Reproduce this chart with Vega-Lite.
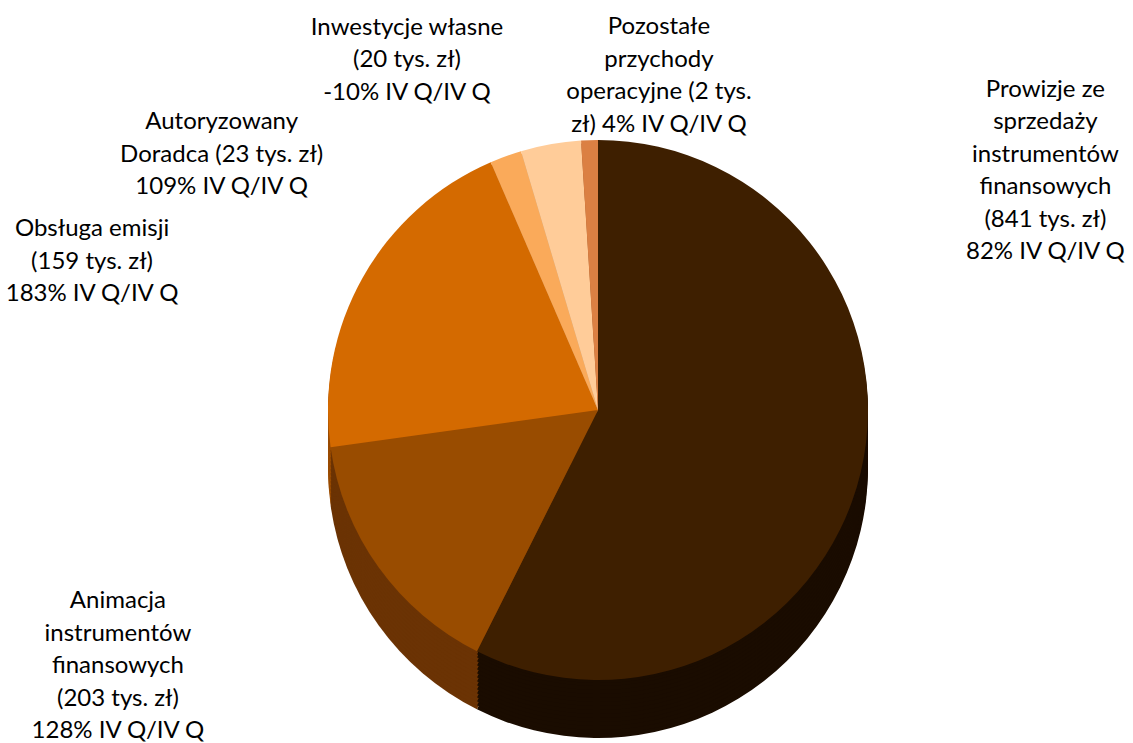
{
  "$schema": "https://vega.github.io/schema/vega-lite/v6.json",
  "width": 1070,
  "height": 666,
  "autosize": {"type": "none"},
  "padding": {"left": 63, "top": 77, "right": 0, "bottom": 0},
  "background": "white",
  "config": {"view": {"stroke": null}},
  "data": {
    "values": [
      {"rank": 1, "name": "Prowizje ze sprzedaży instrumentów finansowych", "share": 57.4, "label": "Prowizje ze\nsprzedaży\ninstrumentów\nfinansowych\n(841 tys. zł)\n82% IV Q/IV Q"},
      {"rank": 2, "name": "Animacja instrumentów finansowych", "share": 15.4, "label": "Animacja\ninstrumentów\nfinansowych\n(203 tys. zł)\n128% IV Q/IV Q"},
      {"rank": 3, "name": "Obsługa emisji", "share": 20.7, "label": "Obsługa emisji\n(159 tys. zł)\n183% IV Q/IV Q"},
      {"rank": 4, "name": "Autoryzowany Doradca", "share": 1.9, "label": "Autoryzowany\nDoradca (23 tys. zł)\n109% IV Q/IV Q"},
      {"rank": 5, "name": "Inwestycje własne", "share": 3.6, "label": "Inwestycje własne\n(20 tys. zł)\n-10% IV Q/IV Q"},
      {"rank": 6, "name": "Pozostałe przychody operacyjne", "share": 1.0, "label": "Pozostałe\nprzychody\noperacyjne (2 tys.\nzł) 4% IV Q/IV Q"}
    ]
  },
  "layer": [
    {
      "encoding": {
        "theta": {"field": "share", "type": "quantitative", "stack": true},
        "order": {"field": "rank", "type": "quantitative"},
        "color": {"field": "name", "type": "nominal", "legend": null,
          "scale": {"domain": ["Prowizje ze sprzedaży instrumentów finansowych", "Animacja instrumentów finansowych", "Obsługa emisji", "Autoryzowany Doradca", "Inwestycje własne", "Pozostałe przychody operacyjne"],
                    "range": ["#1a0c00", "#6b3304", "#9a4c00", "#b8763a", "#c49c72", "#a05a28"]}}
      },
      "layer": [
        {"mark": {"type": "arc", "radius": 270, "yOffset": 58}},
        {"mark": {"type": "arc", "radius": 270, "yOffset": 54}},
        {"mark": {"type": "arc", "radius": 270, "yOffset": 50}},
        {"mark": {"type": "arc", "radius": 270, "yOffset": 46}},
        {"mark": {"type": "arc", "radius": 270, "yOffset": 42}},
        {"mark": {"type": "arc", "radius": 270, "yOffset": 38}},
        {"mark": {"type": "arc", "radius": 270, "yOffset": 34}},
        {"mark": {"type": "arc", "radius": 270, "yOffset": 30}},
        {"mark": {"type": "arc", "radius": 270, "yOffset": 26}},
        {"mark": {"type": "arc", "radius": 270, "yOffset": 22}},
        {"mark": {"type": "arc", "radius": 270, "yOffset": 18}},
        {"mark": {"type": "arc", "radius": 270, "yOffset": 14}},
        {"mark": {"type": "arc", "radius": 270, "yOffset": 10}},
        {"mark": {"type": "arc", "radius": 270, "yOffset": 6}},
        {"mark": {"type": "arc", "radius": 270, "yOffset": 3}}
      ]
    },
    {"mark": {"type": "arc", "radius": 270},
     "encoding": {
       "theta": {"field": "share", "type": "quantitative", "stack": true},
       "order": {"field": "rank", "type": "quantitative"},
       "color": {"field": "name", "type": "nominal", "legend": null,
         "scale": {"domain": ["Prowizje ze sprzedaży instrumentów finansowych", "Animacja instrumentów finansowych", "Obsługa emisji", "Autoryzowany Doradca", "Inwestycje własne", "Pozostałe przychody operacyjne"],
                   "range": ["#3e1f00", "#994c00", "#d46a00", "#faaa5a", "#ffcc99", "#db8043"]}}
     }},
    {
      "encoding": {
        "theta": {"field": "share", "type": "quantitative", "stack": true},
        "order": {"field": "rank", "type": "quantitative"}
      },
      "layer": [
        {"mark": {"type": "text", "radius": 320, "dx": 136, "dy": -394, "lineBreak": "\n", "font": "Lato", "fontSize": 24, "lineHeight": 32.5, "align": "center", "baseline": "middle", "color": "#000000"},
         "encoding": {"text": {"condition": {"test": "datum.rank === 1", "field": "label", "type": "nominal"}, "value": ""}}},
        {"mark": {"type": "text", "radius": 320, "dx": -220, "dy": 5, "lineBreak": "\n", "font": "Lato", "fontSize": 24, "lineHeight": 32.5, "align": "center", "baseline": "middle", "color": "#000000"},
         "encoding": {"text": {"condition": {"test": "datum.rank === 2", "field": "label", "type": "nominal"}, "value": ""}}},
        {"mark": {"type": "text", "radius": 320, "dx": -227, "dy": -24, "lineBreak": "\n", "font": "Lato", "fontSize": 24, "lineHeight": 32.5, "align": "center", "baseline": "middle", "color": "#000000"},
         "encoding": {"text": {"condition": {"test": "datum.rank === 3", "field": "label", "type": "nominal"}, "value": ""}}},
        {"mark": {"type": "text", "radius": 320, "dx": -267, "dy": 13, "lineBreak": "\n", "font": "Lato", "fontSize": 24, "lineHeight": 32.5, "align": "center", "baseline": "middle", "color": "#000000"},
         "encoding": {"text": {"condition": {"test": "datum.rank === 4", "field": "label", "type": "nominal"}, "value": ""}}},
        {"mark": {"type": "text", "radius": 320, "dx": -135, "dy": -67, "lineBreak": "\n", "font": "Lato", "fontSize": 24, "lineHeight": 32.5, "align": "center", "baseline": "middle", "color": "#000000"},
         "encoding": {"text": {"condition": {"test": "datum.rank === 5", "field": "label", "type": "nominal"}, "value": ""}}},
        {"mark": {"type": "text", "radius": 320, "dx": 71, "dy": -63, "lineBreak": "\n", "font": "Lato", "fontSize": 24, "lineHeight": 32.5, "align": "center", "baseline": "middle", "color": "#000000"},
         "encoding": {"text": {"condition": {"test": "datum.rank === 6", "field": "label", "type": "nominal"}, "value": ""}}}
      ]
    }
  ],
  "resolve": {"scale": {"color": "independent"}}
}
